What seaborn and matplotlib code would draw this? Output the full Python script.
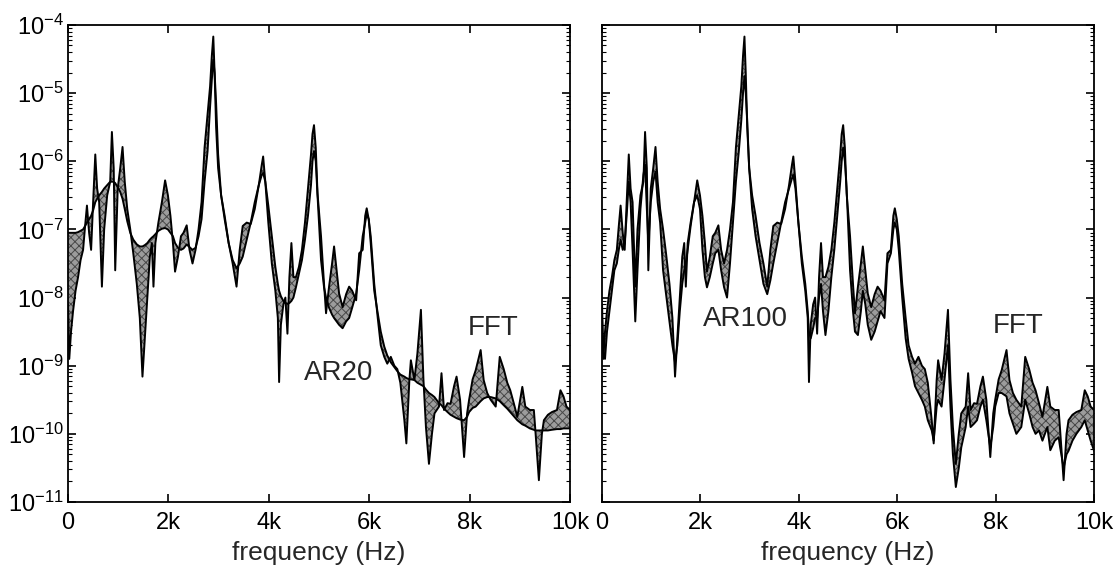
import numpy as np
import pandas as pd
import matplotlib
matplotlib.use("Agg")
import matplotlib.pyplot as plt
import seaborn as sns
from matplotlib.ticker import LogLocator, FixedLocator, FixedFormatter, NullFormatter

sns.set_style("white")
plt.rcParams['font.family'] = ['Liberation Sans', 'DejaVu Sans']
plt.rcParams['mathtext.fontset'] = 'custom'
plt.rcParams['mathtext.rm'] = 'Liberation Sans'
plt.rcParams['mathtext.it'] = 'Liberation Sans:italic'
plt.rcParams['hatch.linewidth'] = 0.7

# frequency grid (Hz) and spectra, stored as log10 of the power
freq = [0, 25, 60, 100, 150, 200, 250, 300, 340, 377, 420, 460, 500, 543, 580, 620, 675, 720, 780, 840,
        874, 910, 940, 990, 1040, 1086, 1130, 1180, 1240, 1300, 1370, 1430, 1483, 1530, 1580, 1630, 1670,
        1702, 1740, 1800, 1870, 1934, 1990, 2040, 2090, 2132, 2190, 2250, 2300, 2364, 2420, 2480, 2540,
        2600, 2660, 2720, 2780, 2830, 2865, 2894, 2920, 2950, 2990, 3050, 3120, 3200, 3280, 3357, 3420,
        3480, 3560, 3640, 3720, 3800, 3860, 3887, 3930, 3990, 4060, 4130, 4180, 4205, 4240, 4290, 4330,
        4371, 4410, 4450, 4490, 4540, 4600, 4660, 4720, 4780, 4840, 4870, 4900, 4935, 4970, 5040, 5100,
        5140, 5200, 5260, 5300, 5350, 5400, 5470, 5540, 5600, 5660, 5740, 5800, 5870, 5920, 5950, 5990,
        6030, 6100, 6170, 6230, 6300, 6360, 6430, 6500, 6560, 6620, 6700, 6740, 6800, 6830, 6900, 6960,
        7030, 7080, 7130, 7190, 7250, 7300, 7390, 7440, 7490, 7560, 7620, 7690, 7740, 7810, 7890, 7950,
        7990, 8060, 8120, 8220, 8280, 8350, 8420, 8520, 8600, 8680, 8750, 8810, 8880, 8950, 9050, 9110,
        9200, 9280, 9310, 9380, 9440, 9480, 9560, 9640, 9740, 9810, 9870, 9930, 10000]

fft_log = [-8.1, -8.9, -8.5, -8.2, -7.9, -7.7, -7.45, -7.3, -6.95, -6.65, -7.05, -7.3, -6.6, -5.9, -6.4,
           -6.6, -7.84, -7.0, -6.5, -6.3, -5.57, -6.1, -7.6, -6.4, -6.1, -5.79, -6.3, -6.7, -7.0, -7.35,
           -7.8, -8.3, -9.16, -8.6, -8.0, -7.4, -7.2, -7.84, -7.2, -6.9, -6.6, -6.28, -6.5, -6.8, -7.2,
           -7.62, -7.4, -7.1, -7.05, -6.94, -7.3, -7.5, -7.3, -7.0, -6.6, -5.8, -5.3, -4.9, -4.45, -4.17,
           -4.7, -5.5, -6.1, -6.5, -6.8, -7.2, -7.5, -7.84, -7.3, -6.95, -6.9, -6.92, -6.7, -6.35, -6.05,
           -5.93, -6.3, -6.9, -7.5, -7.9, -8.3, -9.24, -8.4, -8.1, -8.0, -8.53, -7.7, -7.2, -7.7, -7.7,
           -7.55, -7.3, -6.9, -6.4, -5.9, -5.6, -5.47, -5.8, -6.47, -7.1, -7.8, -8.23, -7.84, -7.5, -7.25,
           -7.6, -7.94, -8.14, -7.95, -7.84, -7.9, -8.04, -7.35, -7.3, -6.8, -6.69, -6.85, -7.1, -7.8,
           -8.3, -8.7, -8.87, -8.97, -8.87, -9.0, -9.05, -9.25, -9.8, -10.14, -9.21, -8.92, -9.21, -8.82,
           -8.18, -9.2, -9.9, -10.44, -10.0, -9.7, -9.6, -9.11, -9.65, -9.55, -9.56, -9.3, -9.16, -9.5,
           -10.34, -9.7, -9.5, -9.2, -9.07, -8.77, -9.21, -9.4, -9.5, -9.6, -8.87, -9.05, -9.25, -9.36,
           -9.55, -9.75, -9.31, -9.6, -9.65, -9.65, -9.95, -10.68, -10.0, -9.8, -9.72, -9.68, -9.65,
           -9.36, -9.45, -9.6, -9.65]

ar20_log = [-7.05, -7.05, -7.05, -7.05, -7.05, -7.04, -7.02, -7.0, -6.95, -6.9, -6.85, -6.8, -6.72, -6.6,
            -6.55, -6.5, -6.45, -6.4, -6.35, -6.3, -6.3, -6.3, -6.32, -6.38, -6.45, -6.55, -6.7, -6.88,
            -7.05, -7.15, -7.22, -7.25, -7.25, -7.23, -7.2, -7.15, -7.12, -7.1, -7.07, -7.02, -6.99,
            -6.98, -7.0, -7.05, -7.1, -7.2, -7.27, -7.3, -7.28, -7.22, -7.26, -7.3, -7.27, -7.1, -6.85,
            -6.3, -5.85, -5.2, -4.8, -4.51, -4.7, -5.15, -5.9, -6.5, -6.85, -7.2, -7.45, -7.57, -7.5,
            -7.4, -7.15, -6.9, -6.6, -6.35, -6.2, -6.17, -6.3, -6.65, -7.1, -7.55, -7.8, -7.9, -7.98,
            -8.05, -8.08, -8.09, -8.08, -8.05, -8.0, -7.85, -7.65, -7.45, -7.15, -6.8, -6.35, -6.0, -5.85,
            -6.0, -6.5, -7.45, -7.85, -8.0, -8.15, -8.25, -8.3, -8.35, -8.4, -8.45, -8.35, -8.3, -8.15,
            -7.94, -7.6, -7.1, -6.9, -6.77, -6.85, -7.2, -7.9, -8.23, -8.5, -8.72, -8.85, -8.95, -9.02,
            -9.08, -9.13, -9.16, -9.18, -9.2, -9.2, -9.21, -9.25, -9.28, -9.3, -9.35, -9.4, -9.43, -9.46,
            -9.55, -9.58, -9.63, -9.68, -9.72, -9.75, -9.77, -9.79, -9.8, -9.75, -9.68, -9.62, -9.6,
            -9.52, -9.48, -9.46, -9.46, -9.48, -9.52, -9.58, -9.63, -9.68, -9.74, -9.8, -9.86, -9.88,
            -9.92, -9.94, -9.95, -9.95, -9.95, -9.95, -9.95, -9.94, -9.93, -9.93, -9.92, -9.92, -9.92]

ar100_log = [-8.3, -8.8, -8.9, -8.5, -8.2, -7.9, -7.6, -7.5, -7.3, -7.15, -7.3, -7.2, -6.8, -6.3, -6.6,
             -7.3, -8.35, -7.6, -6.7, -6.2, -6.05, -6.7, -7.2, -6.6, -6.3, -6.15, -6.6, -6.9, -7.6, -7.95,
             -8.35, -8.7, -8.95, -8.7, -8.2, -7.8, -7.6, -7.5, -7.3, -6.95, -6.6, -6.5, -6.7, -7.3, -7.7,
             -7.85, -7.7, -7.5, -7.35, -7.3, -7.6, -7.85, -8.0, -7.5, -6.9, -6.3, -5.85, -5.4, -5.0, -4.75,
             -5.0, -5.4, -6.1, -6.7, -7.1, -7.45, -7.8, -7.95, -7.75, -7.5, -7.2, -6.9, -6.6, -6.4, -6.25,
             -6.2, -6.4, -6.9, -7.4, -7.8, -8.2, -8.5, -8.6, -8.45, -8.3, -8.3, -8.0, -7.8, -8.2, -8.55,
             -8.2, -7.7, -7.3, -6.8, -6.3, -6.0, -5.8, -6.0, -6.4, -7.6, -8.2, -8.5, -8.55, -8.2, -7.9,
             -8.1, -8.4, -8.62, -8.5, -8.35, -8.2, -8.3, -7.5, -7.35, -7.0, -6.9, -7.0, -7.3, -8.0, -8.6,
             -8.9, -9.1, -9.3, -9.4, -9.5, -9.6, -9.8, -9.95, -10.1, -9.6, -9.5, -9.6, -9.2, -8.7, -9.6,
             -10.3, -10.78, -10.5, -10.2, -9.9, -9.6, -9.9, -9.85, -9.8, -9.6, -9.5, -9.8, -10.2, -9.9,
             -9.6, -9.4, -9.4, -9.45, -9.7, -9.85, -10.0, -9.9, -9.5, -9.7, -9.9, -10.0, -9.95, -10.1,
             -9.9, -10.24, -10.1, -10.05, -10.2, -10.5, -10.3, -10.25, -10.1, -10.0, -9.9, -9.8, -9.95,
             -10.1, -10.25]

x_ticks = [0, 2000, 4000, 6000, 8000, 10000]
x_ticklabels = ["0", "2k", "4k", "6k", "8k", "10k"]
model_names = ["AR20", "AR100"]
# label anchors: (freq, log10 value)
model_label_pos = [(5400, -9.1), (2920, -8.32)]
fft_label_pos = [(8470, -8.45), (8450, -8.42)]

df = pd.DataFrame({
    "freq": freq,
    "FFT": 10.0 ** np.array(fft_log),
    "AR20": 10.0 ** np.array(ar20_log),
    "AR100": 10.0 ** np.array(ar100_log),
})

fig = plt.figure(figsize=(11.17, 5.73), dpi=100)
axes = [fig.add_axes([0.0609, 0.1239, 0.4494, 0.8325]),
        fig.add_axes([0.5390, 0.1239, 0.4405, 0.8325])]

for i, (ax, name) in enumerate(zip(axes, model_names)):
    ax.fill_between(df["freq"], df["FFT"], df[name], facecolor="#9c9c9c",
                    edgecolor="#484848", hatch="xxxx", linewidth=0, zorder=1)
    sns.lineplot(data=df, x="freq", y="FFT", ax=ax, color="black", lw=1.4,
                 estimator=None, zorder=3)
    sns.lineplot(data=df, x="freq", y=name, ax=ax, color="black", lw=1.4,
                 estimator=None, zorder=3)
    ax.set_yscale("log")
    ax.set_ylim(1e-11, 1e-4)
    ax.set_xlim(0, 10000)
    ax.xaxis.set_major_locator(FixedLocator(x_ticks))
    ax.xaxis.set_major_formatter(FixedFormatter(x_ticklabels))
    ax.yaxis.set_major_locator(LogLocator(base=10, numticks=12))
    ax.yaxis.set_minor_locator(LogLocator(base=10, subs=np.arange(2, 10), numticks=12))
    ax.yaxis.set_minor_formatter(NullFormatter())
    ax.tick_params(which="both", direction="in", top=True, right=True, bottom=True, left=True,
                   colors="black")
    ax.tick_params(axis="x", labelsize=17, pad=7)
    ax.tick_params(axis="y", labelsize=17, pad=3)
    ax.tick_params(which="major", length=6, width=1.2)
    ax.tick_params(which="minor", length=3, width=0.8)
    for s in ax.spines.values():
        s.set_color("black")
        s.set_linewidth(1.3)
    ax.set_xlabel("frequency (Hz)", fontsize=19, labelpad=5)
    ax.set_ylabel("")
    if i == 1:
        ax.set_yticklabels([])
    mx, my = model_label_pos[i]
    ax.text(mx, 10.0 ** my, name, fontsize=20, ha="center", va="center")
    fx, fy = fft_label_pos[i]
    ax.text(fx, 10.0 ** fy, "FFT", fontsize=20, ha="center", va="center")

fig.savefig("out.png", dpi=100)
